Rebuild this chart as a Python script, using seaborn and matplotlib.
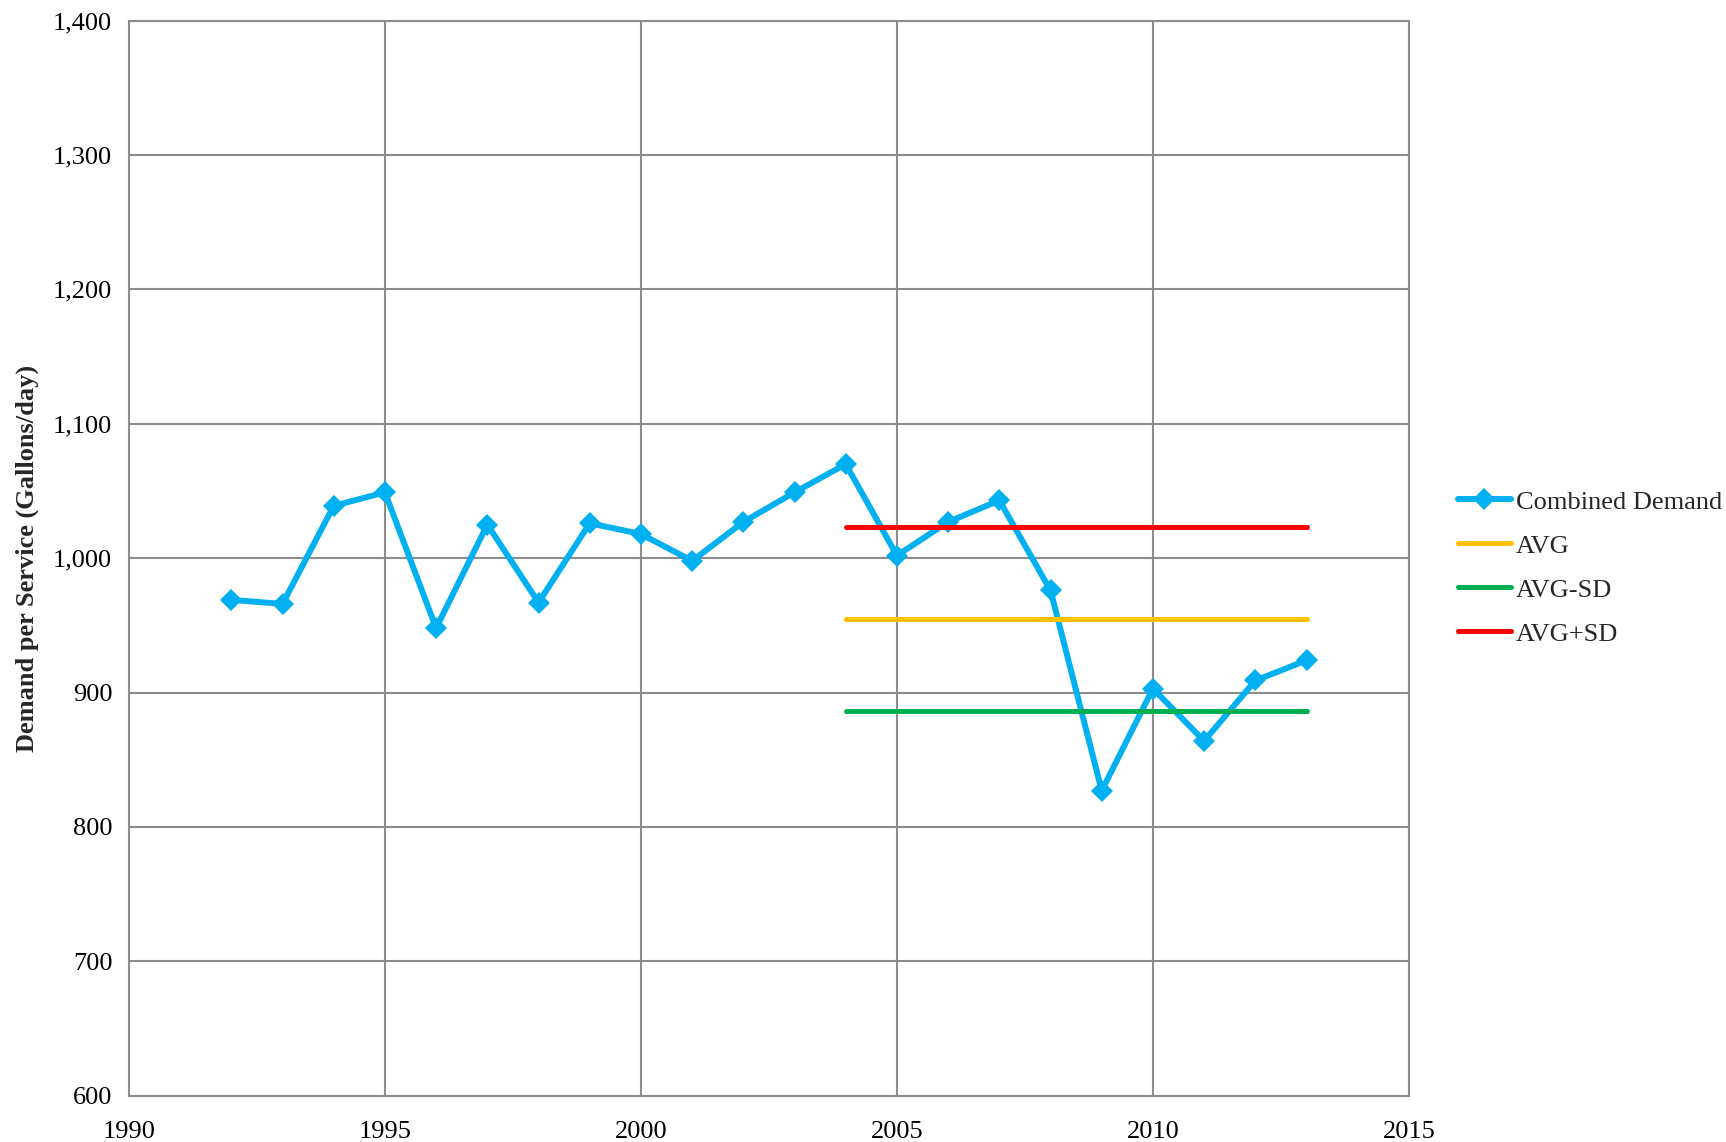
"""Combined demand per service, 1992-2013, with AVG / AVG±SD reference lines."""

import matplotlib.pyplot as plt
import matplotlib.ticker as mticker
import pandas as pd
import seaborn as sns

sns.set_theme(style="white")
plt.rcParams['font.family'] = ['Liberation Serif', 'DejaVu Serif']

# data
years = list(range(1992, 2014))
demand = [969, 966, 1039, 1049, 948, 1025, 967, 1026, 1018, 998, 1027,
          1049, 1070, 1002, 1027, 1043, 976, 827, 903, 864, 909, 924]

stat_names = ["AVG", "AVG-SD", "AVG+SD"]
stat_values = [954.6, 886.0, 1023.3]
stat_years = [2004, 2013]

colors = {
    "Combined Demand": "#00B0F0",
    "AVG": "#FFC000",
    "AVG-SD": "#00B050",
    "AVG+SD": "#FF0000",
}

df = pd.DataFrame({"Year": years, "Demand": demand})
stat_rows = []
for name, val in zip(stat_names, stat_values):
    for yr in stat_years:
        stat_rows.append({"Year": yr, "Demand": val, "Series": name})
df_stats = pd.DataFrame(stat_rows)

fig = plt.figure(figsize=(17.26, 11.42), dpi=100)
ax = fig.add_axes([0.0747, 0.0405, 0.7416, 0.9414])

sns.lineplot(data=df, x="Year", y="Demand", color=colors["Combined Demand"],
             linewidth=4.3, marker="D", markersize=11, markeredgewidth=0,
             label="Combined Demand", ax=ax)
sns.lineplot(data=df_stats, x="Year", y="Demand", hue="Series",
             hue_order=stat_names, palette=colors, linewidth=3.6,
             solid_capstyle="round", ax=ax)

ax.set_xlim(1990, 2015)
ax.set_ylim(600, 1400)
ax.set_xticks(range(1990, 2016, 5))
ax.set_yticks(range(600, 1401, 100))
ax.yaxis.set_major_formatter(mticker.FuncFormatter(lambda v, p: f"{int(v):,}"))
ax.grid(True, color="#8c8c8c", linewidth=1.5)
for sp in ax.spines.values():
    sp.set_color("#8c8c8c")
    sp.set_linewidth(1.5)
ax.tick_params(axis="both", labelsize=19, length=0, colors="black")
ax.tick_params(axis="y", pad=12)
ax.tick_params(axis="x", pad=18)
ax.set_xlabel("")
ax.set_ylabel("Demand per Service (Gallons/day)", fontsize=19,
              fontweight="bold", labelpad=10)

handles, labels = ax.get_legend_handles_labels()
ax.legend(handles, labels, loc="center left", bbox_to_anchor=(1.03, 0.491),
          frameon=False, fontsize=19, handlelength=2.0, handletextpad=0.2,
          labelspacing=0.78, borderaxespad=0)

fig.savefig("out.png", dpi=100)
